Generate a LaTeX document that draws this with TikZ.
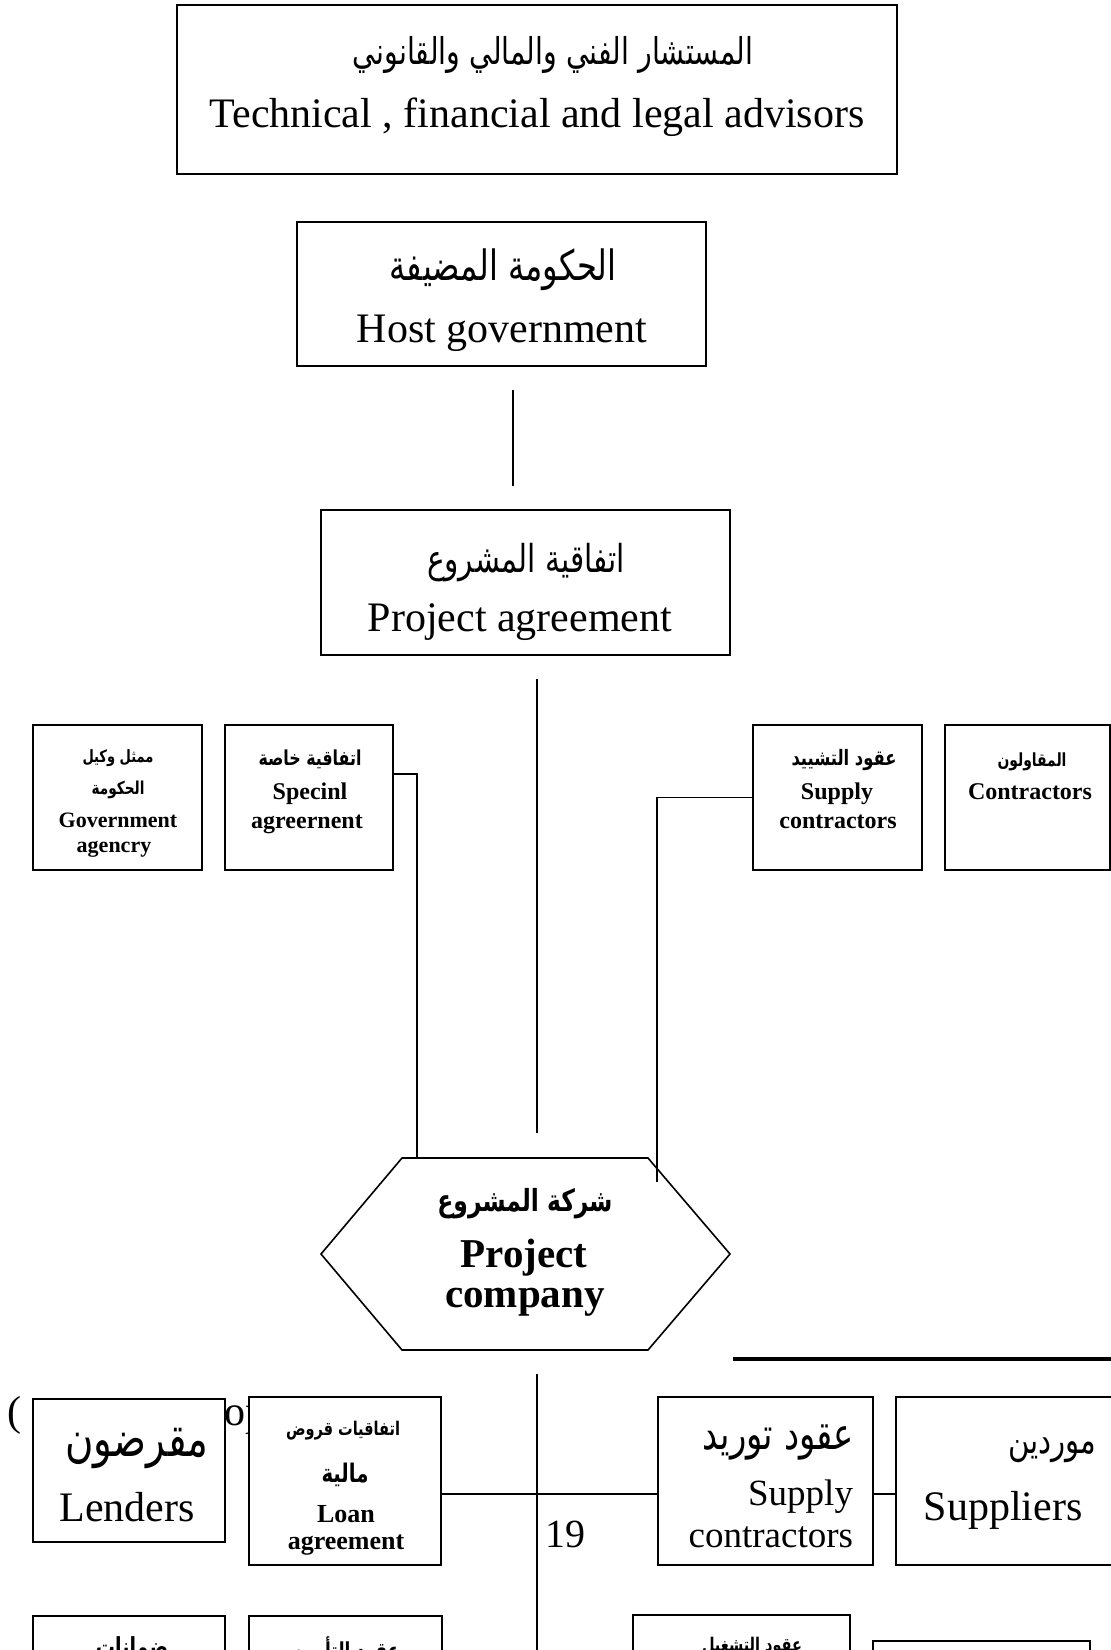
\documentclass[tikz,border=0pt]{standalone}
\usepackage{fontspec}
\usepackage{graphicx}
\setmainfont{Liberation Serif}
\newfontfamily\arabicfont[Script=Arabic]{DejaVu Sans}
\TeXXeTstate=1
\usetikzlibrary{calc}

% font size in pt (1 unit of the picture = 1pt)
\newcommand{\fs}[1]{\fontsize{#1}{#1}\selectfont}
% Arabic line set to a given width (slightly taller glyphs), regular and bold
\newcommand{\arw}[2]{\scalebox{1}[1.3]{\resizebox{#1pt}{!}{\arabicfont #2}}}
\newcommand{\arbw}[2]{\scalebox{1}[1.3]{\resizebox{#1pt}{!}{\arabicfont\bfseries #2}}}
% rectangle node from its top-left and bottom-right corners
\newcommand{\rbox}[5]{\node[box, anchor=north west, minimum width={#4-#2}, minimum height={#5-#3}] (#1) at (#2,#3) {};}

\begin{document}
\begin{tikzpicture}[x=1pt,y=-1pt,
  box/.style={draw, line width=1.6pt, fill=white, inner sep=0pt, outer sep=0pt},
  link/.style={line width=1.3pt},
  lbl/.style={inner sep=0pt, outer sep=0pt, anchor=base},
  arl/.style={inner sep=0pt, outer sep=0pt, anchor=center}]
\clip (0,0) rectangle (1111,1650);
\fill[white] (0,0) rectangle (1111,1650);

% ---- text line partly covered by the boxes below
\node[lbl, anchor=base west] (cutA) at (8,1425) {\fs{42}(};
\node[lbl, anchor=base west] (cutB) at (224,1425) {\fs{42}op};

% ---- boxes
\rbox{ta}{177}{5}{897}{174}
\rbox{hg}{297}{222}{706}{366}
\rbox{pa}{321}{510}{730}{655}
\rbox{ga}{33}{725}{202}{870}
\rbox{sa}{225}{725}{393}{870}
\rbox{sc}{753}{725}{922}{870}
\rbox{co}{945}{725}{1110}{870}
\rbox{le}{33}{1399}{225}{1542}
\rbox{la}{249}{1397}{441}{1565}
\rbox{sb}{658}{1397}{873}{1565}
\rbox{su}{896}{1397}{1120}{1565}
\rbox{ga2}{33}{1616}{225}{1680}
\rbox{ins}{249}{1616}{442}{1680}
\rbox{op}{633}{1615}{850}{1680}
\rbox{rb}{873}{1641}{1090}{1680}

% ---- project company hexagon
\draw[line width=1.6pt] (321,1254) -- (402,1158) -- (648,1158) -- (730,1254)
  -- (648,1350) -- (402,1350) -- cycle;
\node[inner sep=0pt] (pc) at (525,1254) {};

% ---- free ends of the connectors
\coordinate (hgL) at (513,390);
\coordinate (paL) at (513,486);
\coordinate (paC) at (537,679);
\coordinate (pcC) at (537,1133);
\coordinate (pcL) at (417,1158);
\coordinate (pcR) at (657,1182);
\coordinate (pcB) at (537,1374);
\coordinate (endB) at (537,1660);

% ---- connectors
\draw[link] (hgL) -- (paL);
\draw[link] (paC) -- (pcC);
\draw[link] ($(sa.north east)+(0,49)$) -| (pcL);
\draw[link] (sc.west) -| (pcR);
\draw[link] (pcB) -- (endB);
\draw[link] ($(la.east)+(0,13)$) -- ($(sb.west)+(0,13)$);
\draw[link] ($(sb.east)+(0,13)$) -- ($(su.west)+(0,13)$);
\draw[line width=3.2pt] (733,1359) -- (1115,1359);

% ---- advisors
\node[arl] (taA) at (553,55) {\arw{400}{\beginR المستشار الفني والمالي والقانوني\endR}};
\node[lbl] (taE) at (537,127) {\fs{42}Technical , financial and legal advisors};

% ---- host government
\node[arl] (hgA) at (503,270) {\arw{227}{\beginR الحكومة المضيفة\endR}};
\node[lbl] (hgE) at (502,342) {\fs{42}Host government};

% ---- project agreement
\node[arl] (paA) at (526,563) {\arw{198}{\beginR اتفاقية المشروع\endR}};
\node[lbl] (paE) at (520,631) {\fs{42}Project agreement};

% ---- government agency
\node[arl] (gaA1) at (118,758) {\arbw{71}{\beginR ممثل وكيل\endR}};
\node[arl] (gaA2) at (118,790) {\arbw{53}{\beginR الحكومة\endR}};
\node[lbl] (gaE1) at (118,827) {\fs{22}\bfseries Government};
\node[lbl] (gaE2) at (114,852) {\fs{22}\bfseries agencry};

% ---- special agreement
\node[arl] (saA) at (310,759) {\arbw{103}{\beginR اتفاقية خاصة\endR}};
\node[lbl] (saE1) at (310,799) {\fs{24}\bfseries Specinl};
\node[lbl] (saE2) at (307,828) {\fs{24}\bfseries agreernent};

% ---- construction contracts
\node[arl] (scA) at (844,760) {\arbw{105}{\beginR عقود التشييد\endR}};
\node[lbl] (scE1) at (837,799) {\fs{24}\bfseries Supply};
\node[lbl] (scE2) at (838,828) {\fs{24}\bfseries contractors};

% ---- contractors
\node[arl] (coA) at (1032,762) {\arbw{69}{\beginR المقاولون\endR}};
\node[lbl] (coE) at (1030,799) {\fs{24}\bfseries Contractors};

% ---- project company
\node[arl] (pcA) at (525,1204) {\arbw{175}{\beginR شركة المشروع\endR}};
\node[lbl] (pcE1) at (524,1267) {\fs{41}\bfseries Project};
\node[lbl] (pcE2) at (525,1307) {\fs{41}\bfseries company};

% ---- lenders
\node[arl] (leA) at (137,1448) {\arw{143}{\beginR مقرضون\endR}};
\node[lbl] (leE) at (127,1521) {\fs{42}Lenders};

% ---- loan agreement
\node[arl] (laA1) at (343,1431) {\arbw{114}{\beginR اتفاقيات قروض\endR}};
\node[arl] (laA2) at (345,1475) {\arbw{47}{\beginR مالية\endR}};
\node[lbl] (laE1) at (346,1522) {\fs{26}\bfseries Loan};
\node[lbl] (laE2) at (346,1549) {\fs{26}\bfseries agreement};

% ---- page number
\node[lbl, anchor=base west] (pg) at (545,1547) {\fs{40}19};

% ---- supply contracts
\node[arl, anchor=east] (sbA) at (854,1443) {\arw{151}{\beginR عقود توريد\endR}};
\node[lbl, anchor=base east] (sbE1) at (853,1505) {\fs{37}Supply};
\node[lbl, anchor=base east] (sbE2) at (853,1547) {\fs{37}contractors};

% ---- suppliers
\node[arl] (suA) at (1052,1450) {\arw{88}{\beginR موردين\endR}};
\node[lbl] (suE) at (1003,1520) {\fs{42}Suppliers};

% ---- last row, running off the bottom edge
\node[arl, anchor=north] (ga2A) at (132,1637) {\arbw{72}{\beginR ضمانات\endR}};
\node[arl, anchor=north] (insA) at (346,1637) {\arbw{107}{\beginR عقود التأمين\endR}};
\node[arl, anchor=north] (opA) at (752,1637) {\arbw{100}{\beginR عقود التشغيل\endR}};
\end{tikzpicture}
\end{document}
